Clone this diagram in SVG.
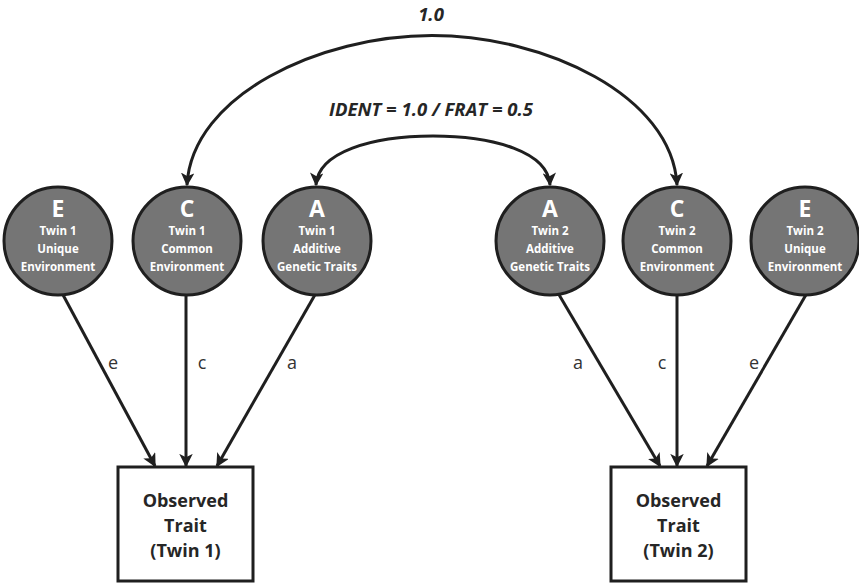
<svg xmlns="http://www.w3.org/2000/svg" width="859" height="583" viewBox="0 0 859 583">
<style>
.node circle{fill:#757575;stroke:#1f1f1f;stroke-width:3}
.big{font-family:"Open Sans","Liberation Sans",sans-serif;font-weight:bold;font-size:23px;fill:#fff;text-anchor:middle}
.sm{font-family:"Open Sans","Liberation Sans",sans-serif;font-weight:bold;font-size:11.5px;fill:#fff;text-anchor:middle}
.box rect{fill:#fff;stroke:#1f1f1f;stroke-width:3}
.bt{font-family:"Open Sans","Liberation Sans",sans-serif;font-weight:bold;font-size:18px;fill:#262626;text-anchor:middle}
.edge{stroke:#1f1f1f;stroke-width:3;fill:none}
.lbl{font-family:"Open Sans","Liberation Sans",sans-serif;font-size:18px;fill:#333;text-anchor:middle}
.cl{font-family:"Open Sans","Liberation Sans",sans-serif;font-weight:bold;font-style:italic;font-size:18.5px;fill:#262626;text-anchor:middle}
</style>
<defs>
<marker id="ah" viewBox="0 0 10 10" refX="9" refY="5" markerWidth="4.5" markerHeight="4.5" orient="auto-start-reverse" markerUnits="strokeWidth">
<path d="M0,0 L10,5 L0,10 L2.5,5 z" fill="#1f1f1f"/>
</marker>
</defs>
<g id="connectors">
<path class="edge" marker-start="url(#ah)" marker-end="url(#ah)" d="M187,185 C192,95 320,35.5 432,35.5 S672,95 677,185"/>
<path class="edge" marker-start="url(#ah)" marker-end="url(#ah)" d="M316,185 C318,152 372,136 433,136 S548,152 550,185"/>
<line class="edge" marker-end="url(#ah)" x1="62" y1="293" x2="155" y2="466"/>
<line class="edge" marker-end="url(#ah)" x1="186" y1="295" x2="186" y2="466"/>
<line class="edge" marker-end="url(#ah)" x1="316" y1="293" x2="217" y2="466"/>
<line class="edge" marker-end="url(#ah)" x1="558" y1="293" x2="660" y2="466"/>
<line class="edge" marker-end="url(#ah)" x1="677" y1="295" x2="677" y2="466"/>
<line class="edge" marker-end="url(#ah)" x1="807" y1="293" x2="707" y2="466"/>
<text class="cl" x="431" y="21">1.0</text>
<text class="cl" x="431" y="116">IDENT = 1.0 / FRAT = 0.5</text>
<text class="lbl" x="113" y="369">e</text>
<text class="lbl" x="202" y="369">c</text>
<text class="lbl" x="292" y="369">a</text>
<text class="lbl" x="578" y="369">a</text>
<text class="lbl" x="662" y="369">c</text>
<text class="lbl" x="754" y="369">e</text>
</g>
<g id="E1" class="node"><circle cx="58" cy="241" r="54"/><text class="big" x="58" y="217">E</text><text class="sm" x="58" y="235">Twin 1</text><text class="sm" x="58" y="253">Unique</text><text class="sm" x="58" y="271">Environment</text></g>
<g id="C1" class="node"><circle cx="187" cy="241" r="54"/><text class="big" x="187" y="217">C</text><text class="sm" x="187" y="235">Twin 1</text><text class="sm" x="187" y="253">Common</text><text class="sm" x="187" y="271">Environment</text></g>
<g id="A1" class="node"><circle cx="317" cy="241" r="54"/><text class="big" x="317" y="217">A</text><text class="sm" x="317" y="235">Twin 1</text><text class="sm" x="317" y="253">Additive</text><text class="sm" x="317" y="271">Genetic Traits</text></g>
<g id="A2" class="node"><circle cx="550" cy="241" r="54"/><text class="big" x="550" y="217">A</text><text class="sm" x="550" y="235">Twin 2</text><text class="sm" x="550" y="253">Additive</text><text class="sm" x="550" y="271">Genetic Traits</text></g>
<g id="C2" class="node"><circle cx="677" cy="241" r="54"/><text class="big" x="677" y="217">C</text><text class="sm" x="677" y="235">Twin 2</text><text class="sm" x="677" y="253">Common</text><text class="sm" x="677" y="271">Environment</text></g>
<g id="E2" class="node"><circle cx="805" cy="241" r="54"/><text class="big" x="805" y="217">E</text><text class="sm" x="805" y="235">Twin 2</text><text class="sm" x="805" y="253">Unique</text><text class="sm" x="805" y="271">Environment</text></g>
<g id="T1" class="box"><rect x="118" y="467" width="135" height="114"/><text class="bt" x="185.5" y="507">Observed</text><text class="bt" x="185.5" y="532">Trait</text><text class="bt" x="185.5" y="557">(Twin 1)</text></g>
<g id="T2" class="box"><rect x="611" y="467" width="135" height="114"/><text class="bt" x="678.5" y="507">Observed</text><text class="bt" x="678.5" y="532">Trait</text><text class="bt" x="678.5" y="557">(Twin 2)</text></g>
</svg>
